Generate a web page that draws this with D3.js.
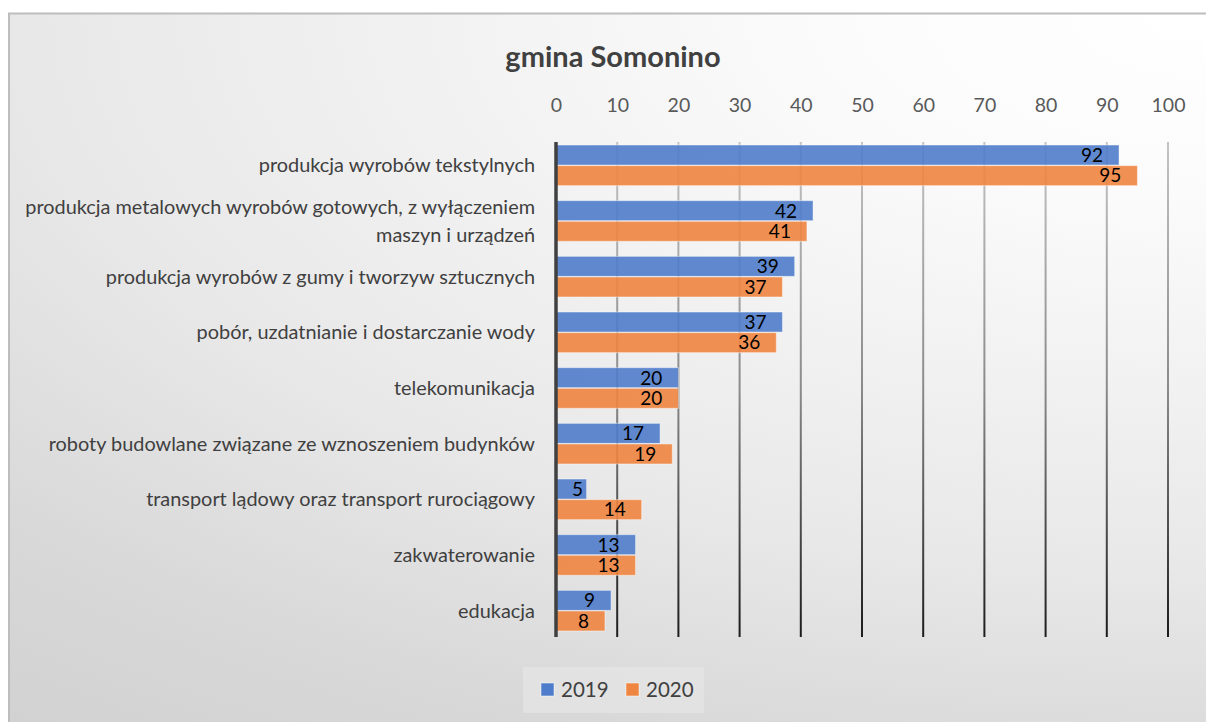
<!DOCTYPE html>
<html>
<head>
<meta charset="utf-8">
<script src="https://cdn.jsdelivr.net/npm/d3@7"></script>
<style>
  html, body { margin: 0; padding: 0; background: #fff; }
  svg { display: block; font-family: Lato, "Open Sans", sans-serif; }
</style>
</head>
<body>
<svg id="chart" width="1206" height="722"></svg>
<script>
// chart data
var title = "gmina Somonino";
var categories = [
  ["produkcja wyrobów tekstylnych"],
  ["produkcja metalowych wyrobów gotowych, z wyłączeniem", "maszyn i urządzeń"],
  ["produkcja wyrobów z gumy i tworzyw sztucznych"],
  ["pobór, uzdatnianie i dostarczanie wody"],
  ["telekomunikacja"],
  ["roboty budowlane związane ze wznoszeniem budynków"],
  ["transport lądowy oraz transport rurociągowy"],
  ["zakwaterowanie"],
  ["edukacja"]
];
var seriesNames = ["2019", "2020"];
var values2019 = [92, 42, 39, 37, 20, 17, 5, 13, 9];
var values2020 = [95, 41, 37, 36, 20, 19, 14, 13, 8];
var xTicks = [0, 10, 20, 30, 40, 50, 60, 70, 80, 90, 100];
var colors = ["#4f7cca", "#ee8540"];

var svg = d3.select("#chart");
var defs = svg.append("defs");

// background gradient (white top-right, grey bottom-left)
var bg = defs.append("radialGradient")
    .attr("id", "bgGrad")
    .attr("gradientUnits", "userSpaceOnUse")
    .attr("cx", 1206).attr("cy", 13).attr("r", 1)
    .attr("gradientTransform", "translate(1206,13) scale(1900,900) translate(-1206,-13)");
bg.append("stop").attr("offset", 0).attr("stop-color", "#ffffff");
bg.append("stop").attr("offset", 0.2).attr("stop-color", "#fbfbfb");
bg.append("stop").attr("offset", 0.62).attr("stop-color", "#e8e8e8");
bg.append("stop").attr("offset", 0.85).attr("stop-color", "#d8d8d8");
bg.append("stop").attr("offset", 1).attr("stop-color", "#d2d2d2");

// gridline gradient (light at top, dark at bottom)
var gg = defs.append("linearGradient")
    .attr("id", "gridGrad")
    .attr("gradientUnits", "userSpaceOnUse")
    .attr("x1", 0).attr("y1", 140).attr("x2", 0).attr("y2", 640);
gg.append("stop").attr("offset", 0).attr("stop-color", "#c4c4c4");
gg.append("stop").attr("offset", 0.5).attr("stop-color", "#8a8a8a");
gg.append("stop").attr("offset", 1).attr("stop-color", "#1a1a1a");

svg.append("rect")
    .attr("x", 9).attr("y", 13.5)
    .attr("width", 1206).attr("height", 720)
    .attr("fill", "url(#bgGrad)")
    .attr("stroke", "#bdbdbd")
    .attr("stroke-width", 2);

// title
svg.append("text")
    .attr("x", 613).attr("y", 67)
    .attr("text-anchor", "middle")
    .attr("font-size", 29)
    .attr("font-weight", "bold")
    .attr("fill", "#404040")
    .text(title);

// scales
var x = d3.scaleLinear().domain([0, 100]).range([556, 1168]);
var y = d3.scaleBand()
    .domain(d3.range(categories.length))
    .range([137.5, 638.5])
    .paddingInner(0.27)
    .paddingOuter(0.135);
var ySub = d3.scaleBand()
    .domain([0, 1])
    .range([0, y.bandwidth()])
    .paddingInner(0.03);

// top axis tick labels
var xAxis = d3.axisTop(x).tickValues(xTicks).tickSize(0).tickPadding(0);
var axisG = svg.append("g")
    .attr("transform", "translate(0,112)")
    .call(xAxis);
axisG.select(".domain").remove();
axisG.selectAll("text")
    .attr("font-size", 19.5)
    .attr("font-family", "Lato, 'Open Sans', sans-serif")
    .attr("fill", "#595959");

// gridlines
svg.append("g").selectAll("line")
    .data(xTicks.filter(function(d) { return d > 0; }))
    .join("line")
    .attr("x1", function(d) { return x(d); })
    .attr("x2", function(d) { return x(d); })
    .attr("y1", 142).attr("y2", 637)
    .attr("stroke", "url(#gridGrad)")
    .attr("stroke-width", 2);

// bars
var rows = categories.map(function(c, i) {
  return { i: i, vals: [values2019[i], values2020[i]] };
});
var groups = svg.append("g").selectAll("g")
    .data(rows)
    .join("g")
    .attr("transform", function(d) { return "translate(0," + y(d.i) + ")"; });

groups.selectAll("rect")
    .data(function(d) { return d.vals.map(function(v, s) { return { v: v, s: s }; }); })
    .join("rect")
    .attr("x", x(0))
    .attr("y", function(d) { return ySub(d.s); })
    .attr("width", function(d) { return x(d.v) - x(0); })
    .attr("height", ySub.bandwidth())
    .attr("fill", function(d) { return colors[d.s]; })
    .attr("fill-opacity", 0.9)
    .attr("stroke", "rgba(255,255,255,0.45)")
    .attr("stroke-width", 1);

// data labels, inside end
groups.selectAll("text.val")
    .data(function(d) { return d.vals.map(function(v, s) { return { v: v, s: s }; }); })
    .join("text")
    .attr("class", "val")
    .attr("y", function(d) { return ySub(d.s) + ySub.bandwidth() / 2; })
    .attr("dy", "0.36em")
    .attr("text-anchor", "end")
    .attr("font-size", 19)
    .attr("fill", "#000")
    .text(function(d) { return d.v; })
    .attr("x", function(d) {
      var w = this.getComputedTextLength();
      return Math.max(x(d.v) - 16, x(0) + 16 + w);
    });

// zero axis line
svg.append("line")
    .attr("x1", x(0)).attr("x2", x(0))
    .attr("y1", 142).attr("y2", 637)
    .attr("stroke", "#404040")
    .attr("stroke-width", 3.5);

// category labels
var catG = svg.append("g").selectAll("text")
    .data(categories)
    .join("text")
    .attr("text-anchor", "end")
    .attr("font-size", 19.9)
    .attr("fill", "#404040")
    .attr("y", function(d, i) { return y(i) + y.bandwidth() / 2; });
catG.selectAll("tspan")
    .data(function(d) { return d; })
    .join("tspan")
    .attr("x", 535)
    .attr("dy", function(t, j, arr) {
      var n = arr.length;
      return j === 0 ? (0.35 - (n - 1) * 0.7) + "em" : "1.4em";
    })
    .text(function(t) { return t; });

// legend
var legend = svg.append("g");
legend.append("rect")
    .attr("x", 523).attr("y", 667)
    .attr("width", 181).attr("height", 46)
    .attr("fill", "#e6e6e6")
    .attr("fill-opacity", 0.7);
var li = legend.selectAll("g")
    .data(seriesNames)
    .join("g")
    .attr("transform", function(d, i) { return "translate(" + (541 + i * 85) + ",683)"; });
li.append("rect")
    .attr("width", 13).attr("height", 13)
    .attr("fill", function(d, i) { return colors[i]; })
    .attr("stroke", "rgba(255,255,255,0.5)");
li.append("text")
    .attr("x", 20).attr("y", 7)
    .attr("dy", "0.36em")
    .attr("font-size", 20.5)
    .attr("fill", "#404040")
    .text(function(d) { return d; });
</script>
</body>
</html>
